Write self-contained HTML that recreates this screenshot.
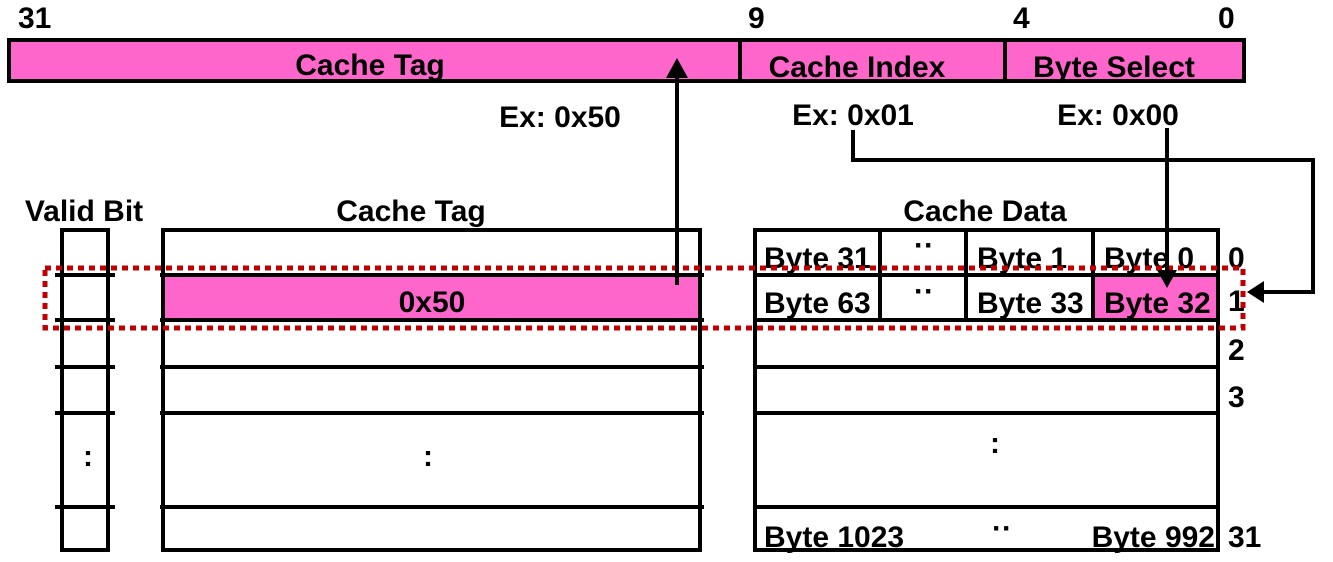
<!DOCTYPE html>
<html><head><meta charset="utf-8"><style>
html,body{margin:0;padding:0;background:#fff;width:1333px;height:562px;overflow:hidden}
text{font-family:"Liberation Sans",sans-serif;font-weight:bold;font-size:30px;fill:#000}
</style></head><body>
<svg width="1333" height="562" viewBox="0 0 1333 562" xmlns="http://www.w3.org/2000/svg">
<!-- top bar -->
<rect x="9" y="40" width="1235" height="41" fill="#ff66cc" stroke="#000" stroke-width="4"/>
<line x1="740" y1="40" x2="740" y2="81" stroke="#000" stroke-width="4"/>
<line x1="1005" y1="40" x2="1005" y2="81" stroke="#000" stroke-width="4"/>
<text x="18" y="28">31</text><text x="748" y="28">9</text><text x="1013" y="28">4</text><text x="1218" y="28">0</text>
<text x="370" y="75" text-anchor="middle">Cache Tag</text>
<text x="857" y="77" text-anchor="middle">Cache Index</text>
<text x="1114" y="77" text-anchor="middle">Byte Select</text>
<text x="560" y="127" text-anchor="middle">Ex: 0x50</text>
<text x="853" y="125" text-anchor="middle">Ex: 0x01</text>
<text x="1118" y="125" text-anchor="middle">Ex: 0x00</text>
<!-- headers -->
<text x="84" y="221" text-anchor="middle">Valid Bit</text>
<text x="411" y="221" text-anchor="middle">Cache Tag</text>
<text x="985" y="221" text-anchor="middle">Cache Data</text>
<!-- pink fills -->
<rect x="163" y="275" width="537" height="45" fill="#ff66cc"/>
<rect x="1093" y="275" width="125" height="45" fill="#ff66cc"/>
<g stroke="#000" stroke-width="4" fill="none">
<rect x="62" y="230" width="46" height="320"/>
<rect x="163" y="230" width="537" height="320"/>
<rect x="755" y="230" width="463" height="320"/>
<path d="M55 275H115M55 320H115M55 367H115M55 413H115M55 507H115"/>
<path d="M160 275H704M160 320H704M160 367H704M160 413H704M160 507H704"/>
<path d="M755 275H1218M755 320H1218M755 367H1218M755 413H1218M755 507H1218"/>
<path d="M880 230V320M966 230V320M1093 230V320"/>
</g>
<text x="432" y="312" text-anchor="middle">0x50</text>
<text x="764" y="268">Byte 31</text><text x="977" y="268">Byte 1</text><text x="1104" y="268">Byte 0</text>
<text x="764" y="313">Byte 63</text><text x="977" y="313">Byte 33</text><text x="1104" y="313">Byte 32</text>
<text x="924" y="255" text-anchor="middle">··</text><text x="924" y="301" text-anchor="middle">··</text>
<text x="764" y="547">Byte 1023</text><text x="1215" y="547" text-anchor="end">Byte 992</text>
<text x="1002" y="538" text-anchor="middle">··</text>
<text x="88" y="466" text-anchor="middle">:</text>
<text x="428" y="466" text-anchor="middle">:</text>
<text x="995" y="453" text-anchor="middle">:</text>
<text x="1228" y="268">0</text><text x="1228" y="311">1</text><text x="1228" y="360">2</text><text x="1228" y="407">3</text><text x="1228" y="547">31</text>
<!-- red dotted -->
<rect x="45" y="268" width="1198" height="60" fill="none" stroke="#c00000" stroke-width="5" stroke-dasharray="6,5"/>
<!-- arrows -->
<g stroke="#000" stroke-width="4" fill="none">
<path d="M677 285V76"/>
<path d="M853 130V160H1313V292H1262"/>
<path d="M1167 128V274"/>
</g>
<path d="M666 78L677 58L688 78z" fill="#000"/>
<path d="M1264 281L1247 292L1264 303z" fill="#000"/>
<path d="M1157 270L1167 288L1177 270z" fill="#000"/>
</svg>
</body></html>
